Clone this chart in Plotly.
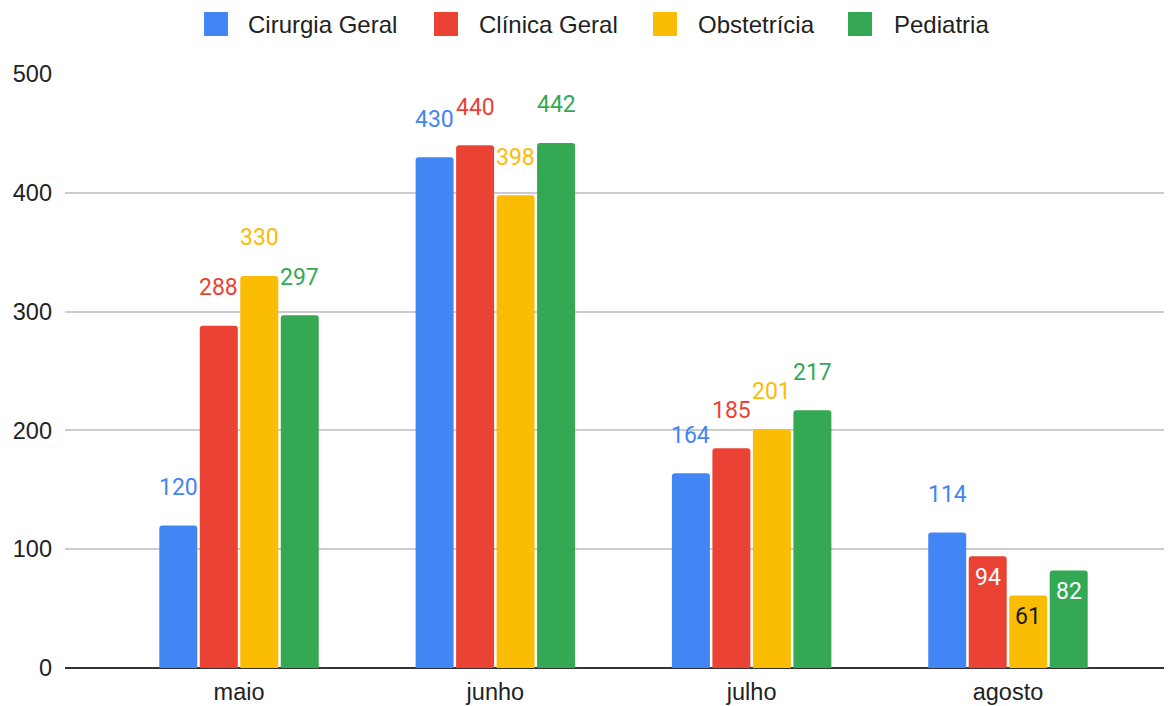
import plotly.graph_objects as go

# ---- data ----
months = ["maio", "junho", "julho", "agosto"]
series_names = ["Cirurgia Geral", "Clínica Geral", "Obstetrícia", "Pediatria"]
cirurgia_geral = [120, 430, 164, 114]
clinica_geral = [288, 440, 185, 94]
obstetricia = [330, 398, 201, 61]
pediatria = [297, 442, 217, 82]
y_ticks = [0, 100, 200, 300, 400, 500]

series_values = [cirurgia_geral, clinica_geral, obstetricia, pediatria]
colors = ["#4285F4", "#EA4335", "#FBBC04", "#34A853"]
inside_text_colors = ["#ffffff", "#ffffff", "#1a1a1a", "#ffffff"]

# ---- layout constants ----
OFF = 8                      # page body margin
VW, VH = 1172, 706           # viewport
W, H = VW - OFF, VH - OFF
ML, MR, MT, MB = 65 - OFF, 0, 74 - OFF, 38
PW, PH = W - ML - MR, H - MT - MB
XR = [-0.679, 3.640]
BARGAP = 0.368
BARGROUPGAP = 0.062
LABEL_FONT = "Roboto, Arial, sans-serif"
TEXT_FONT = "Liberation Sans, Arial, sans-serif"

px_per_cat = PW / (XR[1] - XR[0])
slot_px = px_per_cat * (1 - BARGAP) / len(series_names)

fig = go.Figure()
for name, vals, col in zip(series_names, series_values, colors):
    fig.add_trace(go.Bar(
        x=months, y=vals, name=name, marker=dict(color=col, line=dict(width=0)),
        showlegend=False, hoverinfo="x+y+name",
    ))

annotations = []
for i, (vals, col, icol) in enumerate(zip(series_values, colors, inside_text_colors)):
    xs = (i - (len(series_names) - 1) / 2) * slot_px
    for m, v in zip(months, vals):
        inside = v < 100
        annotations.append(dict(
            x=m, y=v, xref="x", yref="y", text=str(v), showarrow=False,
            xshift=xs, yshift=-21 if inside else 38,
            xanchor="center", yanchor="middle",
            font=dict(family=LABEL_FONT, size=23, color=icol if inside else col),
        ))

# manual legend (large rounded squares like the reference); coords in viewport px
def px2x(px):
    return (px - OFF - ML) / PW

def px2y(py):
    return (OFF + H - MB - py) / PH

legend_items = [(204, 246), (434, 477), (653, 696), (848, 892)]
shapes = []
for (sq, tx), name, col in zip(legend_items, series_names, colors):
    shapes.append(dict(
        type="rect", xref="paper", yref="paper",
        x0=px2x(sq), x1=px2x(sq + 24), y0=px2y(36), y1=px2y(12),
        fillcolor=col, line=dict(width=0), layer="above",
    ))
    annotations.append(dict(
        x=px2x(tx), y=px2y(24), xref="paper", yref="paper", text=name,
        showarrow=False, xanchor="left", yanchor="middle",
        font=dict(family=TEXT_FONT, size=24, color="#222222"),
    ))

fig.update_layout(
    width=W, height=H,
    margin=dict(l=ML, r=MR, t=MT, b=MB, pad=0),
    paper_bgcolor="white", plot_bgcolor="white",
    barmode="group", bargap=BARGAP, bargroupgap=BARGROUPGAP,
    barcornerradius=3,
    showlegend=False,
    font=dict(family=TEXT_FONT, size=23.5, color="#222222"),
    xaxis=dict(
        range=XR, showgrid=False, showline=False, ticks="",
        tickfont=dict(family=TEXT_FONT, size=23.5, color="#222222"),
        ticklabelstandoff=7,
    ),
    yaxis=dict(
        range=[0, 500], tickvals=y_ticks, showgrid=True, gridcolor="#cccccc", gridwidth=1.5,
        zeroline=True, zerolinecolor="#333333", zerolinewidth=2,
        showline=False, ticks="", ticklabelstandoff=12,
        tickfont=dict(family=TEXT_FONT, size=23.5, color="#222222"),
    ),
    annotations=annotations,
    shapes=shapes,
)

fig.write_html("out.html")
